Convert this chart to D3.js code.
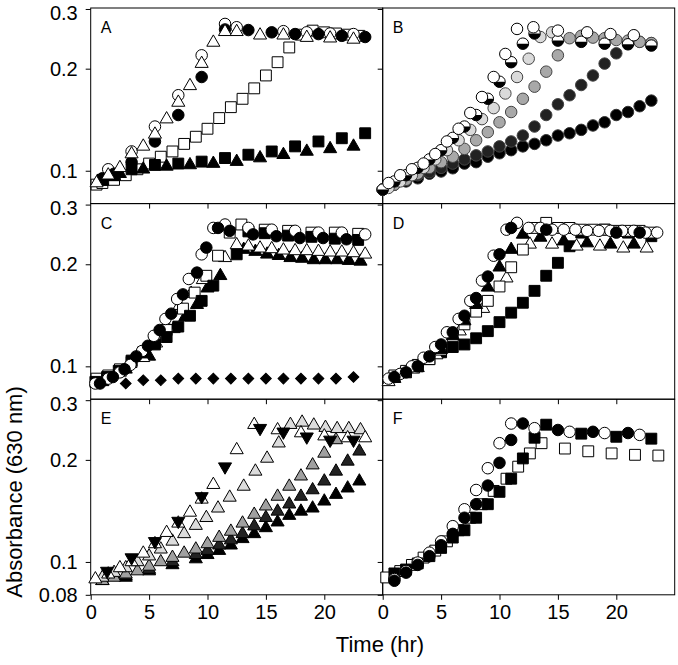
<!DOCTYPE html>
<html><head><meta charset="utf-8">
<script src="https://cdn.jsdelivr.net/npm/d3@7"></script>
<style>body{margin:0;background:#fff}svg{display:block}</style>
</head><body>
<script>
// ---------- DATA: [time (hr), absorbance] ----------
const xTicks = [0,5,10,15,20];
const yTicks = [0.3,0.2,0.1];
const yTickLabels = ["0.3","0.2","0.1"];
const panelLetters = ["A","B","C","D","E","F"];

// Panel A
const aOpenCircle = [[1.5,0.101],[3.5,0.114],[5.5,0.135],[7.5,0.167],[9.5,0.219],[11.5,0.271],[12.5,0.265],[16.5,0.258],[18.5,0.256],[20.5,0.254],[22.5,0.253]];
const aFilledCircle = [[1,0.095],[2,0.098],[3.5,0.106],[5.5,0.122],[7.5,0.146],[9.5,0.189],[11.5,0.261],[13.5,0.260],[15.5,0.256],[17.5,0.253],[19.5,0.253],[21.5,0.250],[23.5,0.248]];
const aOpenTriangle = [[0.5,0.092],[1.5,0.097],[2.5,0.102],[3.5,0.112],[4.5,0.118],[5.5,0.128],[6.5,0.142],[7.5,0.159],[8.5,0.178],[9.5,0.207],[10.5,0.239],[11.5,0.257],[12.5,0.257],[14.5,0.251],[16.5,0.251],[18.5,0.247],[20.5,0.246],[22.5,0.244]];
const aOpenSquare = [[0.5,0.091],[1,0.092],[2,0.094],[3,0.097],[4,0.101],[5,0.105],[6,0.110],[7,0.114],[8,0.120],[9,0.126],[10,0.133],[11,0.143],[12,0.154],[13,0.163],[14,0.175],[15,0.191],[16,0.209],[17,0.231],[18,0.252],[19,0.259],[20,0.256],[21,0.254],[22,0.252],[23,0.250]];
const aFilledSquare = [[1,0.094],[2,0.097],[3.5,0.101],[5.5,0.104],[7.5,0.105],[9.5,0.1064],[11.5,0.109],[13.5,0.1115],[15.5,0.114],[17.5,0.118],[19.5,0.122],[21.5,0.1247],[23.5,0.129]];
const aFilledTriangle = [[1,0.093],[2,0.096],[2.5,0.098],[4.5,0.101],[6.5,0.103],[8.5,0.104],[10.5,0.105],[12.5,0.1064],[14.5,0.109],[16.5,0.1115],[18.5,0.114],[20.5,0.116],[22.5,0.118]];

// Panel B
const bOpen = [[0.5,0.092],[1.5,0.097],[2.5,0.101],[3.5,0.105],[4.5,0.112],[5.5,0.122],[6.5,0.133],[7.5,0.148],[8.5,0.165],[9.5,0.189],[10.5,0.221],[11.5,0.262],[12.9,0.265],[15,0.259],[17.5,0.256],[19.5,0.253],[21.5,0.251]];
const bHalf = [[0,0.088],[1,0.093],[2,0.097],[3,0.102],[4,0.108],[5,0.115],[6,0.125],[7,0.135],[8,0.146],[9,0.163],[10,0.183],[11,0.209],[12,0.237],[13,0.254],[15,0.242],[17,0.240],[19,0.237],[21,0.236],[23,0.234]];
const bLight = [[0.5,0.089],[1.5,0.093],[2.5,0.097],[3.5,0.102],[4.5,0.108],[5.5,0.115],[6.5,0.123],[7.5,0.132],[8.5,0.142],[9.5,0.153],[10.5,0.169],[11.5,0.189],[12.5,0.214],[13.5,0.248],[14.5,0.256]];
const bMid = [[0,0.088],[1,0.091],[2,0.094],[3,0.098],[4,0.102],[5,0.106],[6,0.110],[7,0.116],[8,0.123],[9,0.130],[10,0.139],[11,0.149],[12,0.163],[13,0.177],[14,0.196],[15,0.219],[16,0.246],[17,0.250],[18,0.247],[19,0.246],[20,0.243],[21,0.242],[22,0.240],[23,0.238]];
const bDark = [[0,0.088],[1,0.091],[2,0.094],[3,0.097],[4,0.099],[5,0.102],[6,0.105],[7,0.108],[8,0.111],[9,0.114],[10,0.118],[11,0.122],[12,0.127],[13,0.135],[14,0.146],[15,0.157],[16,0.167],[17,0.179],[18,0.191],[19,0.207],[20,0.222],[21,0.239],[22,0.240],[23,0.238]];
const bBlack = [[0,0.088],[1,0.091],[2,0.093],[3,0.095],[4,0.098],[5,0.0995],[6,0.1017],[7,0.105],[8,0.106],[9,0.110],[10,0.1126],[11,0.115],[12,0.118],[13,0.120],[14,0.123],[15,0.127],[16,0.129],[17,0.132],[18,0.136],[19,0.139],[20,0.146],[21,0.149],[22,0.155],[23,0.161]];

// Panel C
const cOpenCircle = [[0.4,0.089],[1.5,0.092],[2.5,0.096],[3.4,0.101],[4.4,0.111],[5.4,0.123],[6.4,0.138],[7.4,0.158],[8.4,0.181],[9.5,0.214],[10.5,0.256],[11.5,0.262],[13.5,0.256],[15.5,0.253],[17.5,0.251],[19.5,0.248],[21.5,0.248],[23.5,0.245]];
const cFilledCircle = [[0.8,0.089],[1.9,0.093],[2.9,0.098],[3.9,0.107],[4.9,0.115],[5.9,0.128],[6.9,0.143],[7.9,0.163],[9.1,0.189],[9.9,0.224],[10.9,0.256],[11.9,0.251],[13.9,0.245],[15.9,0.242],[17.9,0.239],[19.9,0.239],[21.9,0.237]];
const cOpenSquare = [[0.5,0.092],[1.5,0.094],[2.5,0.098],[3.5,0.103],[4.5,0.110],[5.5,0.118],[6.5,0.128],[7.9,0.148],[8.9,0.165],[9.9,0.185],[10.9,0.212],[11.9,0.248],[12.9,0.262],[14.9,0.253],[16.9,0.251],[18.9,0.248],[20.9,0.248],[22.9,0.246]];
const cFilledSquare = [[0.4,0.090],[1.4,0.093],[2.4,0.097],[3.5,0.104],[4.5,0.110],[5.5,0.116],[6.5,0.122],[7.5,0.131],[8.5,0.141],[9.5,0.156],[10.5,0.173],[12.5,0.214],[13.5,0.250],[14.9,0.247],[16.9,0.243],[18.9,0.241],[20.9,0.238],[22.9,0.236]];
const cOpenTriangle = [[0.5,0.090],[2.5,0.096],[4.5,0.106],[5.6,0.117],[6.6,0.130],[7.6,0.151],[8.6,0.164],[9.6,0.180],[11.5,0.209],[12.5,0.228],[13.5,0.226],[14.5,0.223],[15.5,0.222],[16.5,0.220],[17.5,0.219],[18.5,0.219],[19.5,0.218],[20.5,0.217],[21.5,0.217],[22.5,0.216],[23.5,0.214]];
const cFilledTriangle = [[1,0.090],[3,0.098],[5,0.107],[7.1,0.129],[8.1,0.140],[9.1,0.152],[10,0.170],[11.1,0.185],[13.1,0.221],[14.1,0.218],[15.1,0.214],[16.1,0.212],[17.1,0.209],[18.1,0.208],[19.1,0.206],[20.1,0.206],[21.1,0.206],[22.1,0.205],[23.1,0.204]];
const cDiamond = [[3,0.089],[4.5,0.091],[6,0.091],[7.5,0.092],[9,0.092],[10.5,0.092],[12,0.092],[13.5,0.092],[15,0.092],[16.5,0.092],[18,0.092],[19.5,0.092],[21,0.092],[22.5,0.093]];

// Panel D
const dOpenCircle = [[0.5,0.092],[1.5,0.095],[2.5,0.100],[3.5,0.106],[4.5,0.114],[5.5,0.126],[6.5,0.138],[7.5,0.156],[8.5,0.179],[9.5,0.212],[10.6,0.253],[11.5,0.265],[12.5,0.256],[13.5,0.256],[14.5,0.253],[15.5,0.253],[16.5,0.253],[17.5,0.251],[18.5,0.251],[19.5,0.251],[20.5,0.251],[21.5,0.251],[22.5,0.248],[23.5,0.248]];
const dFilledCircle = [[1,0.093],[2,0.096],[3,0.100],[4,0.107],[5,0.116],[6,0.126],[7,0.141],[8,0.159],[9,0.184],[10,0.214],[11,0.256],[14,0.253],[20,0.248],[22,0.248]];
const dOpenSquare = [[1,0.094],[2,0.097],[3,0.101],[4,0.105],[5,0.112],[6,0.123],[7,0.133],[8,0.145],[9,0.156],[10,0.172],[11,0.196],[12,0.221],[13,0.256],[14,0.265],[15,0.256],[16,0.256],[17,0.253],[18,0.253],[19,0.253],[20,0.251],[21,0.251],[22,0.251],[23,0.248]];
const dFilledSquare = [[1,0.093],[2,0.096],[3,0.100],[4,0.105],[5,0.110],[6,0.114],[7,0.116],[8,0.121],[9,0.127],[10,0.135],[11,0.144],[12,0.154],[13,0.167],[14,0.185],[15,0.202],[16,0.226],[17,0.248],[19,0.253],[21,0.248],[23,0.242]];
const dFilledTriangle = [[1,0.092],[3,0.099],[5,0.112],[6,0.123],[7,0.136],[8,0.152],[9,0.171],[10,0.196],[11,0.221],[12,0.245],[13.5,0.240],[15.5,0.234],[17.5,0.231],[19.5,0.229],[21.5,0.229]];
const dOpenTriangle = [[0.5,0.090],[2.6,0.098],[4.6,0.108],[6.6,0.127],[8.6,0.148],[10.6,0.182],[12.6,0.229],[14.5,0.229],[16.6,0.226],[18.6,0.226],[20.6,0.223],[22.6,0.223]];

// Panel E
const eWhite = [[0.4,0.089],[1.5,0.092],[2.5,0.096],[3.5,0.100],[4.5,0.106],[5.5,0.113],[6.5,0.122],[7.5,0.130],[8.5,0.140],[9.5,0.153],[10.5,0.169],[12.5,0.214],[14,0.254],[16,0.245],[18,0.240],[20,0.235],[22,0.232],[23.5,0.232]];
const eLight = [[1,0.090],[2,0.093],[3,0.096],[4,0.100],[5,0.104],[6,0.109],[7,0.115],[8,0.121],[9,0.128],[9.9,0.135],[10.9,0.144],[11.9,0.155],[13.1,0.167],[14.1,0.185],[15.1,0.202],[16.1,0.224],[17.1,0.254],[18.1,0.258],[19.1,0.253],[20.1,0.249],[21.1,0.247],[22.1,0.247],[23.1,0.245]];
const eMid = [[1,0.088],[2,0.090],[3,0.092],[4,0.094],[5,0.097],[6,0.100],[7,0.103],[8,0.106],[9,0.109],[10,0.113],[11,0.118],[12,0.123],[13,0.130],[14,0.138],[15,0.146],[16,0.156],[17,0.167],[18,0.179],[19,0.193],[20,0.209],[21,0.229]];
const eDark = [[1,0.088],[3,0.091],[5,0.095],[7,0.100],[9,0.105],[10,0.108],[11,0.112],[12,0.116],[13,0.121],[14,0.1275],[15,0.135],[16,0.141],[17,0.148],[18,0.156],[19,0.163],[20,0.173],[21,0.185],[22,0.198],[23,0.212]];
const eBlack = [[1,0.088],[3,0.090],[5,0.094],[7,0.098],[9,0.102],[10,0.105],[11,0.108],[12,0.112],[13,0.117],[14,0.121],[15,0.126],[16,0.131],[17,0.137],[18,0.141],[19,0.144],[20,0.151],[21,0.158],[22,0.165],[23,0.173]];
const eInverted = [[1.4,0.094],[3.5,0.103],[5.5,0.115],[7.5,0.132],[9.5,0.156],[11.5,0.191],[14.5,0.248],[16.5,0.242],[18.5,0.234],[20.5,0.229],[22.5,0.229]];

// Panel F
const fOpenCircle = [[1,0.089],[2,0.094],[3,0.0996],[4,0.1065],[5,0.115],[6,0.1275],[7,0.143],[8,0.163],[9,0.189],[10,0.224],[11,0.256],[13,0.248],[16,0.242],[19,0.240],[22,0.237]];
const fFilledCircle = [[1,0.088],[2,0.093],[3,0.098],[4,0.104],[5,0.112],[6,0.121],[7,0.135],[8,0.148],[9,0.168],[10,0.196],[11,0.229],[12,0.256],[15,0.245],[18,0.242],[21,0.240]];
const fOpenSquare = [[0.3,0.090],[1.5,0.094],[2.5,0.098],[3.5,0.103],[4.5,0.108],[5.5,0.115],[6.5,0.124],[7.5,0.135],[8.5,0.148],[9.5,0.162],[10.6,0.176],[11.6,0.191],[12.6,0.209],[13.6,0.224],[15.6,0.216],[17.6,0.212],[19.6,0.209],[21.6,0.207],[23.6,0.206]];
const fFilledSquare = [[1,0.0925],[2,0.095],[3,0.099],[4,0.104],[5,0.110],[6,0.118],[7,0.124],[8,0.135],[9,0.148],[10,0.161],[11,0.176],[12,0.202],[13,0.2325],[14,0.254],[17,0.239],[20,0.234],[23,0.231]];

// ---------- LAYOUT ----------
const W = 678, H = 665;
const colX = [90.7, 382.7], pW = 292;
const rowY = [8, 203.6, 399.2], pH = 195.6;
const FONT = "'Liberation Sans', Arial, sans-serif";

const svg = d3.select("body").append("svg").attr("width", W).attr("height", H);

const x = d3.scaleLinear().domain([0, 25]).range([0, pW]);
const y = d3.scaleLog().domain([0.08, 0.302]).range([pH, 0]);

const SYM = {
  circle: d3.symbol().type(d3.symbolCircle).size(104),
  square: d3.symbol().type(d3.symbolSquare).size(118),
  triangle: d3.symbol().type(d3.symbolTriangle).size(74),
  diamond: d3.symbol().type(d3.symbolSquare).size(58)
};
const halfArc = d3.arc().innerRadius(0).outerRadius(5.75).startAngle(Math.PI/2).endAngle(Math.PI*3/2);

const panels = [
  {row:0,col:0,series:[
    {d:aOpenSquare,s:"square",f:"#fff"},
    {d:aFilledSquare,s:"square",f:"#000"},
    {d:aFilledTriangle,s:"triangle",f:"#000"},
    {d:aOpenCircle,s:"circle",f:"#fff"},
    {d:aFilledCircle,s:"circle",f:"#000"},
    {d:aOpenTriangle,s:"triangle",f:"#fff"}]},
  {row:0,col:1,series:[
    {d:bBlack,s:"circle",f:"#000",st:"#333"},
    {d:bDark,s:"circle",f:"#222",st:"#444"},
    {d:bMid,s:"circle",f:"#a8a8a8",st:"#444"},
    {d:bLight,s:"circle",f:"#dadada",st:"#444"},
    {d:bHalf,s:"half",f:"#fff"},
    {d:bOpen,s:"circle",f:"#fff"}]},
  {row:1,col:0,series:[
    {d:cDiamond,s:"diamond",f:"#000"},
    {d:cFilledTriangle,s:"triangle",f:"#000"},
    {d:cOpenTriangle,s:"triangle",f:"#fff"},
    {d:cOpenSquare,s:"square",f:"#fff"},
    {d:cFilledSquare,s:"square",f:"#000"},
    {d:cOpenCircle,s:"circle",f:"#fff"},
    {d:cFilledCircle,s:"circle",f:"#000"}]},
  {row:1,col:1,series:[
    {d:dFilledSquare,s:"square",f:"#000"},
    {d:dOpenTriangle,s:"triangle",f:"#fff"},
    {d:dOpenSquare,s:"square",f:"#fff"},
    {d:dFilledTriangle,s:"triangle",f:"#000"},
    {d:dOpenCircle,s:"circle",f:"#fff"},
    {d:dFilledCircle,s:"circle",f:"#000"}]},
  {row:2,col:0,series:[
    {d:eBlack,s:"triangle",f:"#000"},
    {d:eDark,s:"triangle",f:"#222"},
    {d:eMid,s:"triangle",f:"#a0a0a0"},
    {d:eLight,s:"triangle",f:"#dcdcdc"},
    {d:eWhite,s:"triangle",f:"#fff"},
    {d:eInverted,s:"inv",f:"#000"}]},
  {row:2,col:1,series:[
    {d:fOpenSquare,s:"square",f:"#fff"},
    {d:fFilledSquare,s:"square",f:"#000"},
    {d:fOpenCircle,s:"circle",f:"#fff"},
    {d:fFilledCircle,s:"circle",f:"#000"}]}
];

panels.forEach((p, i) => {
  const g = svg.append("g").attr("transform", `translate(${colX[p.col]},${rowY[p.row]})`);
  // frame
  g.append("rect").attr("x",0).attr("y",0).attr("width",pW).attr("height",pH)
    .attr("fill","none").attr("stroke","#000").attr("stroke-width",1);

  // left axis (ticks outward)
  const yTickVals = p.row === 2 ? [0.3,0.2,0.1,0.08] : yTicks;
  const yAx = d3.axisLeft(y).tickValues(yTickVals).tickSize(5).tickPadding(8)
    .tickFormat(p.col === 0 ? (d => d === 0.08 ? "0.08" : yTickLabels[yTicks.indexOf(d)]) : "");
  const ya = g.append("g").call(yAx);
  ya.select(".domain").remove();
  ya.selectAll("text").attr("font-family", FONT).attr("font-size", 20).attr("fill","#000");
  // the top label sits a little below the frame edge, as in the reference
  ya.selectAll(".tick").filter(d => d === 0.3).select("text").attr("y", 4);

  // top ticks inward for lower rows
  if (p.row > 0) {
    const ta = g.append("g").call(d3.axisTop(x).tickValues(xTicks.slice(1)).tickSize(-5).tickFormat(""));
    ta.select(".domain").remove();
  }
  // bottom axis
  if (p.row === 2) {
    const ba = g.append("g").attr("transform",`translate(0,${pH})`)
      .call(d3.axisBottom(x).tickValues(xTicks).tickSize(5).tickPadding(5).tickFormat(d3.format("d")));
    ba.select(".domain").remove();
    ba.selectAll("text").attr("font-family", FONT).attr("font-size", 20).attr("fill","#000");
  }

  // letter
  g.append("text").attr("x", 10).attr("y", 25).text(panelLetters[i])
    .attr("font-family", FONT).attr("font-size", 16).attr("fill","#000");

  // points
  p.series.forEach(s => {
    const sg = g.append("g");
    const pts = sg.selectAll("g").data(s.d).join("g")
      .attr("transform", d => `translate(${x(d[0])},${y(d[1])})`);
    const stroke = s.st || "#000";
    if (s.s === "half") {
      pts.append("circle").attr("r",5.75).attr("fill","#fff");
      pts.append("path").attr("d", halfArc()).attr("fill","#000");
      pts.append("circle").attr("r",5.75).attr("fill","none").attr("stroke","#000").attr("stroke-width",1);
    } else if (s.s === "inv") {
      pts.append("path").attr("d", SYM.triangle()).attr("transform","rotate(180)")
        .attr("fill", s.f).attr("stroke", stroke).attr("stroke-width",1);
    } else if (s.s === "diamond") {
      pts.append("path").attr("d", SYM.diamond()).attr("transform","rotate(45)")
        .attr("fill", s.f).attr("stroke", stroke).attr("stroke-width",1);
    } else {
      pts.append("path").attr("d", SYM[s.s]())
        .attr("fill", s.f).attr("stroke", stroke).attr("stroke-width",1);
    }
  });
});

// axis titles
svg.append("text").attr("transform","translate(22,492) rotate(-90)").attr("text-anchor","middle")
  .attr("font-family", FONT).attr("font-size", 22).attr("fill","#000").text("Absorbance (630 nm)");
svg.append("text").attr("x", 380).attr("y", 652).attr("text-anchor","middle")
  .attr("font-family", FONT).attr("font-size", 22).attr("fill","#000").text("Time (hr)");
</script>
</body></html>
